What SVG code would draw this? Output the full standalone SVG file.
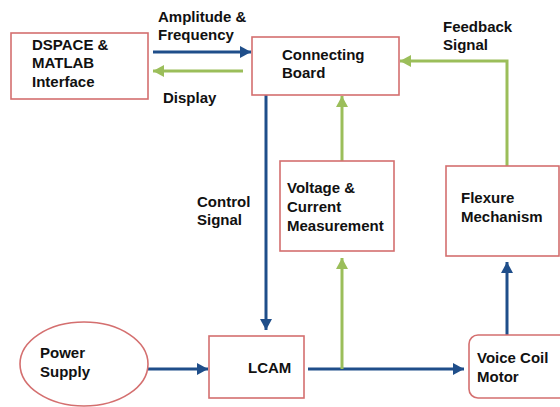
<svg xmlns="http://www.w3.org/2000/svg" width="560" height="407" viewBox="0 0 560 407">
<style>
.box{fill:#fff;stroke:#D46F6F;stroke-width:1.6}
.t{font-family:"Liberation Sans",Arial,sans-serif;font-weight:bold;font-size:15px;fill:#111}
.b{stroke:#1F4E8A;stroke-width:3;fill:none}
.g{stroke:#9BBE5A;stroke-width:3;fill:none}
</style>
<defs>
<marker id="ab" markerUnits="userSpaceOnUse" markerWidth="12" markerHeight="12" refX="11" refY="6" orient="auto"><path d="M0,0 L11,6 L0,12 Z" fill="#1F4E8A"/></marker>
<marker id="ag" markerUnits="userSpaceOnUse" markerWidth="12" markerHeight="12" refX="11" refY="6" orient="auto"><path d="M0,0 L11,6 L0,12 Z" fill="#9BBE5A"/></marker>
</defs>
<rect width="560" height="407" fill="#fff"/>
<g id="connectors">
<line class="b" x1="153" y1="52" x2="251" y2="52" marker-end="url(#ab)"/>
<line class="g" x1="243" y1="71" x2="153" y2="71" marker-end="url(#ag)"/>
<line class="b" x1="266" y1="95" x2="266" y2="330" marker-end="url(#ab)"/>
<line class="g" x1="342" y1="161" x2="342" y2="96" marker-end="url(#ag)"/>
<polyline class="g" points="507,166 507,61 400,61" marker-end="url(#ag)"/>
<line class="b" x1="148" y1="369" x2="208" y2="369" marker-end="url(#ab)"/>
<line class="b" x1="308" y1="369" x2="464" y2="369" marker-end="url(#ab)"/>
<line class="g" x1="342" y1="369" x2="342" y2="258" marker-end="url(#ag)"/>
<line class="b" x1="507" y1="335" x2="507" y2="262" marker-end="url(#ab)"/>
</g>
<g id="labels">
<text class="t" x="158" y="22">Amplitude &amp;</text>
<text class="t" x="158" y="40">Frequency</text>
<text class="t" x="163" y="103">Display</text>
<text class="t" x="443" y="32">Feedback</text>
<text class="t" x="443" y="50">Signal</text>
<text class="t" x="197" y="207">Control</text>
<text class="t" x="197" y="225">Signal</text>
</g>
<g id="dspace">
<rect class="box" x="11" y="33" width="137" height="66"/>
<text class="t" x="32" y="50">DSPACE &amp;</text>
<text class="t" x="32" y="68">MATLAB</text>
<text class="t" x="32" y="87">Interface</text>
</g>
<g id="connecting-board">
<rect class="box" x="252" y="37" width="147" height="58"/>
<text class="t" x="282" y="60">Connecting</text>
<text class="t" x="282" y="78">Board</text>
</g>
<g id="voltage">
<rect class="box" x="280" y="161" width="114" height="90"/>
<text class="t" x="287" y="193">Voltage &amp;</text>
<text class="t" x="287" y="212">Current</text>
<text class="t" x="287" y="231">Measurement</text>
</g>
<g id="flexure">
<rect class="box" x="446" y="166" width="113" height="90"/>
<text class="t" x="461" y="203">Flexure</text>
<text class="t" x="461" y="222">Mechanism</text>
</g>
<g id="power">
<ellipse class="box" cx="84" cy="364" rx="64" ry="42"/>
<text class="t" x="40" y="358">Power</text>
<text class="t" x="40" y="377">Supply</text>
</g>
<g id="lcam">
<rect class="box" x="209" y="336" width="95" height="62"/>
<text class="t" x="248" y="373">LCAM</text>
</g>
<g id="vcm">
<rect class="box" x="469" y="335" width="100" height="63" rx="9"/>
<text class="t" x="477" y="363">Voice Coil</text>
<text class="t" x="477" y="382">Motor</text>
</g>
</svg>
